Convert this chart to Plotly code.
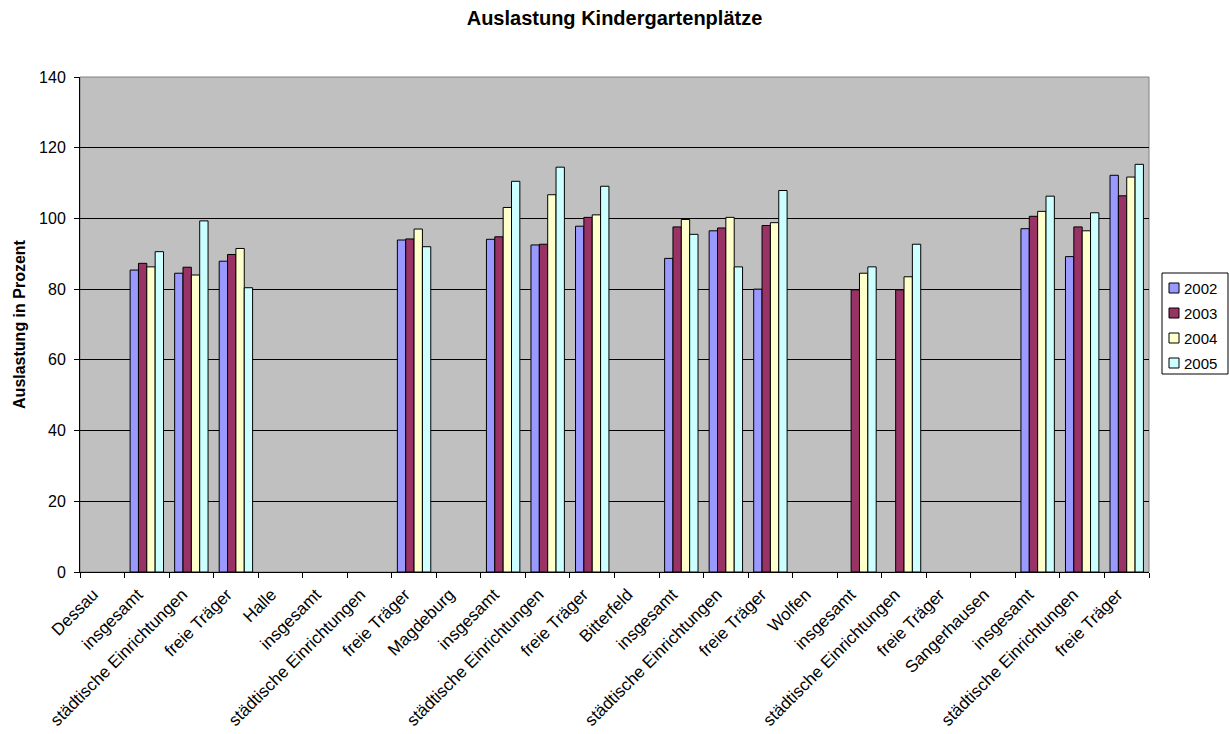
import plotly.graph_objects as go

# Categories along the x axis (one per row of the source table)
categories = [
    "Dessau", "insgesamt", "städtische Einrichtungen", "freie Träger",
    "Halle", "insgesamt", "städtische Einrichtungen", "freie Träger",
    "Magdeburg", "insgesamt", "städtische Einrichtungen", "freie Träger",
    "Bitterfeld", "insgesamt", "städtische Einrichtungen", "freie Träger",
    "Wolfen", "insgesamt", "städtische Einrichtungen", "freie Träger",
    "Sangerhausen", "insgesamt", "städtische Einrichtungen", "freie Träger",
]

# Utilisation in percent per year (None = no value)
v2002 = [None, 85.4, 84.5, 87.9, None, None, None, 93.9,
         None, 94.1, 92.5, 97.8, None, 88.7, 96.5, 80.0,
         None, None, None, None, None, 97.1, 89.2, 112.2]
v2003 = [None, 87.3, 86.2, 89.8, None, None, None, 94.2,
         None, 94.8, 92.7, 100.3, None, 97.6, 97.3, 98.0,
         None, 79.8, 79.8, None, None, 100.6, 97.6, 106.4]
v2004 = [None, 86.3, 84.0, 91.5, None, None, None, 97.0,
         None, 103.1, 106.7, 101.0, None, 99.7, 100.3, 98.8,
         None, 84.5, 83.5, None, None, 102.0, 96.5, 111.7]
v2005 = [None, 90.6, 99.3, 80.4, None, None, None, 92.0,
         None, 110.5, 114.5, 109.1, None, 95.5, 86.3, 107.9,
         None, 86.3, 92.7, None, None, 106.3, 101.6, 115.3]

years = ["2002", "2003", "2004", "2005"]
series = [v2002, v2003, v2004, v2005]
colors = ["#9999FF", "#993366", "#FFFFCC", "#CCFFFF"]

y_ticks = [0, 20, 40, 60, 80, 100, 120, 140]

FONT = "Liberation Sans, Arial, sans-serif"
W, H = 1229, 734
ML, MR, MT, MB = 80, 80, 77, 162
PW, PH = W - ML - MR, H - MT - MB

xpos = list(range(len(categories)))

fig = go.Figure()
for name, vals, col in zip(years, series, colors):
    fig.add_trace(go.Bar(
        x=xpos, y=vals, name=name, showlegend=False,
        marker=dict(color=col, line=dict(color="black", width=1)),
    ))

fig.update_layout(
    width=W, height=H,
    margin=dict(l=ML, r=MR, t=MT, b=MB, autoexpand=False),
    paper_bgcolor="white",
    plot_bgcolor="#C0C0C0",
    barmode="group",
    bargap=0.25,
    bargroupgap=0,
    font=dict(family=FONT, size=16, color="black"),
    title=dict(
        text="<b>Auslastung Kindergartenplätze</b>",
        x=0.5, xanchor="center", y=1 - 18 / H, yanchor="middle",
        font=dict(family=FONT, size=20, color="black"),
    ),
)

fig.update_xaxes(
    range=[-0.5, len(categories) - 0.5],
    tickmode="array", tickvals=xpos, ticktext=categories,
    tickangle=-45,
    ticks="outside", ticklen=5, tickcolor="rgba(0,0,0,0)",
    ticklabelshift=-9,
    minor=dict(ticks="outside", tick0=-0.5, dtick=1, ticklen=5,
               tickcolor="black", tickwidth=1, showgrid=False),
    showgrid=False, zeroline=False,
    showline=True, linecolor="black", linewidth=1,
    tickfont=dict(family=FONT, size=17),
)

fig.update_yaxes(
    range=[0, 140],
    tickmode="array", tickvals=y_ticks,
    ticks="outside", ticklen=5, tickcolor="black",
    ticklabelstandoff=5,
    showgrid=True, gridcolor="black", gridwidth=1,
    zeroline=False,
    showline=True, linecolor="black", linewidth=1,
    tickfont=dict(family=FONT, size=16),
    title=dict(text="<b>Auslastung in Prozent</b>",
               font=dict(family=FONT, size=16), standoff=9),
)

# grey frame around the plotting area
fig.add_shape(type="rect", xref="paper", yref="paper", x0=0, y0=0, x1=1, y1=1,
              line=dict(color="#808080", width=1), layer="below")


def px_x(px):
    return (px - ML) / PW


def px_y(py):
    return (H - MB - py) / PH


# legend box at the right of the plotting area
fig.add_shape(type="rect", xref="paper", yref="paper",
              x0=px_x(1162), x1=px_x(1228), y0=px_y(374), y1=px_y(273),
              line=dict(color="black", width=1), fillcolor="white", layer="above")
for i, (name, col) in enumerate(zip(years, colors)):
    cy = 288 + i * 25
    fig.add_shape(type="rect", xref="paper", yref="paper",
                  x0=px_x(1169), x1=px_x(1179), y0=px_y(cy + 5), y1=px_y(cy - 5),
                  line=dict(color="black", width=1), fillcolor=col, layer="above")
    fig.add_annotation(xref="paper", yref="paper", x=px_x(1182), y=px_y(cy),
                       text=name, showarrow=False, xanchor="left", yanchor="middle",
                       font=dict(family=FONT, size=15, color="black"))

fig.write_html("out.html")
